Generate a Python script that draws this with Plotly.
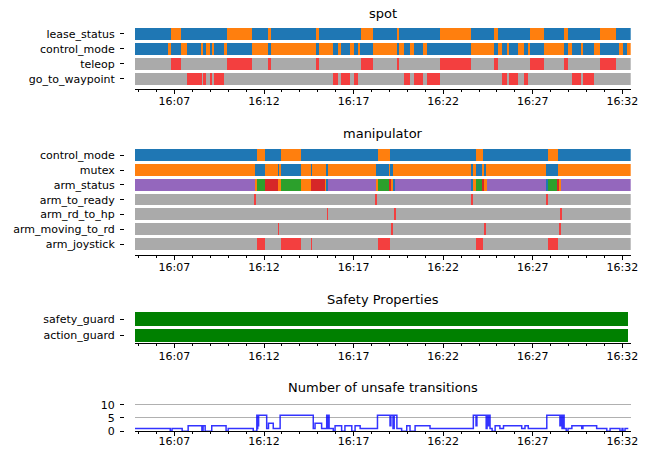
import pandas as pd
import plotly.graph_objects as go

DATE = "2023-05-10"
T_START = "16:04:48"
T_END = "16:32:28"

# ---------------- data ----------------
spot_rows = ["lease_status", "control_mode", "teleop", "go_to_waypoint"]
manip_rows = ["control_mode", "mutex", "arm_status", "arm_to_ready",
              "arm_rd_to_hp", "arm_moving_to_rd", "arm_joystick"]
safety_rows = ["safety_guard", "action_guard"]

# spot / lease_status : boundaries + state per segment (a / b)
lease_bounds = ["16:04:48", "16:06:49", "16:07:22", "16:09:55", "16:11:19", "16:12:13",
                "16:12:24", "16:14:53", "16:15:05", "16:17:25", "16:18:06", "16:19:25",
                "16:19:33", "16:21:50", "16:23:32", "16:24:51", "16:25:05", "16:26:51",
                "16:27:38", "16:28:46", "16:28:59", "16:30:45", "16:31:39", "16:32:28"]
lease_states = ["a", "b", "a", "b", "a", "b", "a", "b", "a", "b", "a", "b",
                "a", "b", "a", "b", "a", "b", "a", "b", "a", "b", "a"]

# spot / control_mode
spot_ctrl_bounds = ["16:04:48", "16:06:38", "16:06:49", "16:07:22", "16:07:41", "16:08:32",
                    "16:08:37", "16:08:46", "16:08:59", "16:09:07", "16:09:11", "16:09:47",
                    "16:09:55", "16:11:19", "16:12:13", "16:12:24", "16:14:53", "16:15:05",
                    "16:15:52", "16:16:09", "16:16:17", "16:16:48", "16:17:02", "16:17:16",
                    "16:17:22", "16:18:06", "16:19:25", "16:19:33", "16:19:50", "16:20:09",
                    "16:20:23", "16:20:54", "16:21:05", "16:23:32", "16:24:51", "16:25:05",
                    "16:25:16", "16:25:35", "16:25:41", "16:26:10", "16:26:29", "16:26:45",
                    "16:26:51", "16:27:38", "16:28:46", "16:28:59", "16:29:13", "16:29:42",
                    "16:29:47", "16:30:26", "16:30:45", "16:31:50", "16:32:03", "16:32:15",
                    "16:32:28"]
spot_ctrl_states = ["a", "b", "a", "b", "a", "b", "a", "b", "a", "b", "a", "b",
                    "a", "b", "a", "b", "a", "b", "a", "b", "a", "b", "a", "b",
                    "a", "b", "a", "b", "a", "b", "a", "b", "a", "b", "a", "b",
                    "a", "b", "a", "b", "a", "b", "a", "b", "a", "b", "a", "b",
                    "a", "b", "a", "b", "a", "b"]

# spot / teleop active intervals
teleop_on = [("16:06:49", "16:07:22"), ("16:09:55", "16:11:19"), ("16:12:13", "16:12:24"),
             ("16:14:53", "16:15:05"), ("16:17:25", "16:18:06"), ("16:19:25", "16:19:33"),
             ("16:21:50", "16:23:32"), ("16:24:51", "16:25:05"), ("16:26:51", "16:27:38"),
             ("16:28:46", "16:28:59"), ("16:30:45", "16:31:39")]

# spot / go_to_waypoint active intervals
gtw_on = [("16:07:41", "16:08:32"), ("16:08:37", "16:08:46"), ("16:08:59", "16:09:07"),
          ("16:09:11", "16:09:47"), ("16:15:52", "16:16:09"), ("16:16:17", "16:16:48"),
          ("16:17:02", "16:17:16"), ("16:19:50", "16:20:09"), ("16:20:23", "16:20:54"),
          ("16:21:05", "16:21:50"), ("16:25:16", "16:25:35"), ("16:25:41", "16:26:10"),
          ("16:26:29", "16:26:45"), ("16:29:13", "16:29:42"), ("16:29:47", "16:30:26")]

# manipulator / control_mode
manip_ctrl_bounds = ["16:04:48", "16:11:36", "16:12:04", "16:12:57", "16:14:04", "16:18:23",
                     "16:19:02", "16:23:49", "16:24:13", "16:27:52", "16:28:24", "16:32:28"]
manip_ctrl_states = ["a", "b", "a", "b", "a", "b", "a", "b", "a", "b", "a"]

# manipulator / mutex
mutex_bounds = ["16:04:48", "16:11:30", "16:12:04", "16:12:48", "16:12:53", "16:12:57",
                "16:14:04", "16:14:38", "16:14:40", "16:15:30", "16:15:33", "16:18:16",
                "16:19:00", "16:19:05", "16:19:11", "16:23:36", "16:23:41", "16:23:49",
                "16:24:13", "16:24:17", "16:24:22", "16:27:43", "16:28:24", "16:32:28"]
mutex_states = ["b", "a", "b", "a", "b", "a", "b", "a", "b", "a", "b", "a",
                "b", "a", "b", "a", "b", "a", "b", "a", "b", "a", "b"]

# manipulator / arm_status (p, o, g, r, b)
arm_bounds = ["16:04:48", "16:11:30", "16:11:36", "16:12:04", "16:12:48", "16:12:57",
              "16:14:04", "16:14:39", "16:15:25", "16:15:30", "16:15:34", "16:18:15",
              "16:18:23", "16:19:00", "16:19:05", "16:19:13", "16:19:19", "16:23:36",
              "16:23:41", "16:23:49", "16:24:13", "16:24:18", "16:24:26", "16:27:47",
              "16:27:50", "16:28:24", "16:28:29", "16:28:35", "16:32:28"]
arm_states = ["p", "o", "g", "r", "o", "g", "o", "r", "o", "b", "p", "o",
              "g", "r", "o", "b", "p", "b", "o", "g", "r", "o", "p", "b",
              "g", "r", "o", "p"]

arm_to_ready_on = [("16:11:29", "16:11:32"), ("16:18:15", "16:18:18"),
                   ("16:23:36", "16:23:39"), ("16:27:46", "16:27:49")]
arm_rd_to_hp_on = [("16:15:31", "16:15:34"), ("16:19:18", "16:19:21"),
                   ("16:28:34", "16:28:37")]
arm_moving_to_rd_on = [("16:12:47", "16:12:50"), ("16:19:07", "16:19:10"),
                       ("16:24:19", "16:24:22"), ("16:28:30", "16:28:33")]
arm_joystick_on = [("16:11:36", "16:12:04"), ("16:12:57", "16:14:04"), ("16:14:38", "16:14:40"),
                   ("16:18:23", "16:19:02"), ("16:23:49", "16:24:13"), ("16:27:52", "16:28:24")]

# safety properties (satisfied interval)
safety_ok = [("16:04:48", "16:32:20")]
action_ok = [("16:04:48", "16:32:20")]

# number of unsafe transitions (step series)
unsafe_times = ["16:04:48", "16:06:46", "16:06:52", "16:07:26", "16:07:46", "16:08:32",
                "16:08:36", "16:08:43", "16:09:05", "16:09:53", "16:10:00", "16:11:24",
                "16:11:36", "16:11:37", "16:11:39", "16:11:40", "16:11:42", "16:12:09",
                "16:12:15", "16:12:31", "16:12:54", "16:14:45", "16:14:51", "16:15:13",
                "16:15:30", "16:15:33", "16:15:35", "16:15:38", "16:15:52", "16:15:58",
                "16:16:20", "16:16:31", "16:16:54", "16:17:05", "16:17:22", "16:18:20",
                "16:19:02", "16:19:05", "16:19:12", "16:19:16", "16:19:25", "16:19:41",
                "16:19:58", "16:20:09", "16:20:26", "16:21:16", "16:23:41", "16:23:50",
                "16:23:53", "16:24:24", "16:24:27", "16:24:30", "16:24:34", "16:24:37",
                "16:24:44", "16:24:54", "16:25:10", "16:25:22", "16:26:23", "16:26:34",
                "16:26:45", "16:27:47", "16:28:31", "16:28:35", "16:28:38", "16:28:41",
                "16:28:45", "16:28:52", "16:28:58", "16:29:11", "16:29:44", "16:29:48",
                "16:30:34", "16:31:08", "16:31:19", "16:31:52", "16:31:59", "16:32:02",
                "16:32:09", "16:32:20"]
unsafe_counts = [1, 0, 1, 0, 2, 0,
                 2, 0, 2, 0, 1, 0,
                 6, 1, 6, 2, 6, 1,
                 3, 1, 6, 1, 3, 1,
                 6, 1, 6, 1, 0, 2,
                 0, 2, 0, 2, 1, 6,
                 2, 6, 1, 6, 1, 0,
                 2, 0, 2, 1, 6, 2,
                 6, 1, 6, 2, 6, 1,
                 0, 2, 1, 2, 1, 2,
                 1, 6, 2, 6, 1, 6,
                 1, 0, 1, 2, 1, 2,
                 1, 0, 1, 0, 1, 0,
                 1, 1]
unsafe_ticks = [0, 5, 10]

for _b, _s in [(lease_bounds, lease_states), (spot_ctrl_bounds, spot_ctrl_states),
               (manip_ctrl_bounds, manip_ctrl_states), (mutex_bounds, mutex_states),
               (arm_bounds, arm_states)]:
    assert len(_b) == len(_s) + 1, (len(_b), len(_s))
assert len(unsafe_times) == len(unsafe_counts)

# ---------------- styles ----------------
BLUE, ORANGE, GREEN, RED, PURPLE = "#1f77b4", "#ff7f0e", "#2ca02c", "#d62728", "#9467bd"
GRAY, ALERT, OKGREEN = "#aaaaaa", "#f33f3f", "#008000"
two_state = {"a": BLUE, "b": ORANGE}
arm_palette = {"p": PURPLE, "o": ORANGE, "g": GREEN, "r": RED, "b": BLUE}

W, H = 648, 449          # reference canvas (positions below are given in its pixels)
FONT = "DejaVu Sans"
X_LEFT, X_RIGHT = 135, 630.7
YAX_POS = 124


def ts(s):
    return pd.Timestamp(f"{DATE} {s}")


fig = go.Figure()


def add_bars(ax, row, intervals, colors):
    starts = [ts(a) for a, b in intervals]
    durs = [(ts(b) - ts(a)).total_seconds() * 1000 for a, b in intervals]
    fig.add_trace(go.Bar(
        orientation="h", y=[row] * len(intervals), x=durs,
        base=[s.strftime("%Y-%m-%d %H:%M:%S") for s in starts],
        marker=dict(color=colors, line=dict(width=0)), width=0.8,
        xaxis="x" + ax, yaxis="y" + ax, hoverinfo="skip", showlegend=False))


def add_states(ax, row, bounds, states, palette):
    ivs = list(zip(bounds[:-1], bounds[1:]))
    add_bars(ax, row, ivs, [palette[s] for s in states])


def add_binary(ax, row, on, color=ALERT, base=GRAY, full=(T_START, T_END)):
    add_bars(ax, row, [full], [base])
    add_bars(ax, row, on, [color] * len(on))


# spot
add_states("", 0, lease_bounds, lease_states, two_state)
add_states("", 1, spot_ctrl_bounds, spot_ctrl_states, two_state)
add_binary("", 2, teleop_on)
add_binary("", 3, gtw_on)
# manipulator
add_states("2", 0, manip_ctrl_bounds, manip_ctrl_states, two_state)
add_states("2", 1, mutex_bounds, mutex_states, two_state)
add_states("2", 2, arm_bounds, arm_states, arm_palette)
add_binary("2", 3, arm_to_ready_on)
add_binary("2", 4, arm_rd_to_hp_on)
add_binary("2", 5, arm_moving_to_rd_on)
add_binary("2", 6, arm_joystick_on)
# safety
add_bars("3", 0, safety_ok, [OKGREEN])
add_bars("3", 1, action_ok, [OKGREEN])
# unsafe transitions
fig.add_trace(go.Scatter(
    x=[f"{DATE} {t}" for t in unsafe_times], y=unsafe_counts, mode="lines",
    line=dict(shape="hv", color="rgba(0,0,255,0.8)", width=1.5),
    xaxis="x4", yaxis="y4", hoverinfo="skip", showlegend=False))


def ypaper(p):
    return 1 - p / H


xdom = [X_LEFT / W, X_RIGHT / W]
xaxis_common = dict(
    type="date", range=[f"{DATE} {T_START}", f"{DATE} {T_END}"], domain=xdom,
    showline=True, linecolor="black", linewidth=1, mirror=False,
    ticks="outside", ticklen=4, tickwidth=1, tickcolor="black", ticklabelstandoff=-2,
    tick0=f"{DATE} 16:07:00", dtick=300000, tickformat="%H:%M",
    minor=dict(ticks="outside", ticklen=2, tickwidth=1, tickcolor="black",
               dtick=60000, tick0=f"{DATE} 16:00:00", showgrid=False),
    showgrid=False, zeroline=False, tickfont=dict(size=11, color="black", family=FONT),
    fixedrange=True)


def cat_axis(rows, top, bottom, m):
    n = len(rows)
    return dict(domain=[ypaper(bottom), ypaper(top)], range=[n - 1 + m, -m],
                tickvals=list(range(n)), ticktext=rows, anchor="free",
                position=YAX_POS / W, showline=False, showgrid=False, zeroline=False,
                ticks="outside", ticklen=4, tickwidth=1, tickcolor="black",
                ticklabelstandoff=3,
                tickfont=dict(size=11, color="black", family=FONT), fixedrange=True)


layout = dict(
    autosize=True, margin=dict(l=0, r=0, t=0, b=0, autoexpand=False),
    paper_bgcolor="white", plot_bgcolor="white", barmode="overlay", bargap=0,
    font=dict(family=FONT, size=11, color="black"), showlegend=False,
    xaxis=dict(xaxis_common, anchor="y"),
    xaxis2=dict(xaxis_common, anchor="y2"),
    xaxis3=dict(xaxis_common, anchor="y3"),
    xaxis4=dict(xaxis_common, anchor="y4", ticklabelstandoff=-4),
    yaxis=cat_axis(spot_rows, 23.7, 88.7, 0.667),
    yaxis2=cat_axis(manip_rows, 143.8, 254.7, 0.76),
    yaxis3=cat_axis(safety_rows, 310.3, 342.7, 0.49),
    yaxis4=dict(domain=[ypaper(430.2), ypaper(397.2)], range=[0, 12.5],
                tickvals=unsafe_ticks, anchor="free", position=YAX_POS / W,
                showline=False, showgrid=True, gridcolor="#b0b0b0", gridwidth=1,
                zeroline=False, ticks="outside", ticklen=4, tickwidth=1,
                tickcolor="black", ticklabelstandoff=3,
                tickfont=dict(size=11, color="black", family=FONT),
                fixedrange=True),
)
fig.update_layout(**layout)

titles = [("spot", 13.3), ("manipulator", 133.3), ("Safety Properties", 299),
          ("Number of unsafe transitions", 386.7)]
for txt, py in titles:
    fig.add_annotation(text=txt, x=(X_LEFT + X_RIGHT) / 2 / W, y=ypaper(py),
                       xref="paper", yref="paper", xanchor="center", yanchor="middle",
                       showarrow=False, font=dict(size=13, color="black", family=FONT))

PAGE_FIX = (
    "var h=document.documentElement,b=document.body;"
    "h.style.margin='0';h.style.padding='0';h.style.overflow='hidden';"
    "b.style.margin='0';b.style.padding='0';b.style.overflow='hidden';"
    "var g=document.getElementById('{plot_id}');"
    "g.style.position='absolute';g.style.left='0px';g.style.top='0px';"
)

fig.write_html("out.html", config={"displayModeBar": False},
               default_width="100vw", default_height="100vh", post_script=PAGE_FIX)
